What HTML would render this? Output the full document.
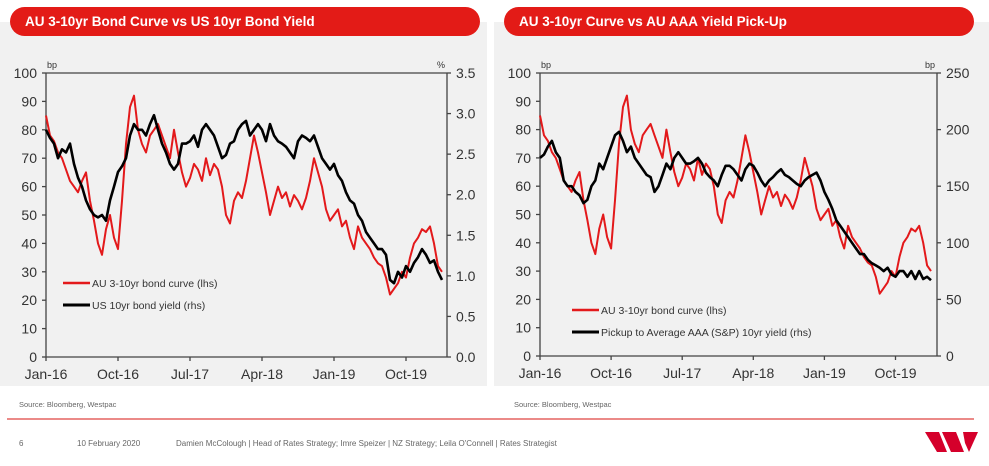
<!DOCTYPE html>
<html><head><meta charset="utf-8"><style>
body{margin:0;width:989px;height:466px;background:#fff;position:relative;overflow:hidden;font-family:"Liberation Sans",sans-serif}
.panel{position:absolute;top:22px;height:364px;background:#f1f1f1}
.title{position:absolute;top:7px;height:29px;width:470px;background:#e31b17;border-radius:15px;color:#fff;font-weight:bold;font-size:13.5px;line-height:29px;padding-left:15px;box-sizing:border-box}
.src{position:absolute;top:400px;font-size:7.5px;color:#666}
.foot{position:absolute;top:439px;font-size:8px;color:#666}
</style></head><body>
<div class="panel" style="left:0;width:487px"></div>
<div class="panel" style="left:494px;width:495px"></div>
<div class="title" style="left:10px">AU 3-10yr Bond Curve vs US 10yr Bond Yield</div>
<div class="title" style="left:504px">AU 3-10yr Curve vs AU AAA Yield Pick-Up</div>
<svg id="chart" width="989" height="466" style="position:absolute;left:0;top:0" font-family="Liberation Sans, sans-serif"></svg>
<div class="src" style="left:19px">Source: Bloomberg, Westpac</div>
<div class="src" style="left:514px">Source: Bloomberg, Westpac</div>
<div style="position:absolute;left:7px;top:418px;width:967px;height:2px;background:#eb8a88"></div>
<div class="foot" style="left:19px">6</div>
<div class="foot" style="left:77px">10 February 2020</div>
<div class="foot" style="left:176px">Damien McColough | Head of Rates Strategy; Imre Speizer | NZ Strategy; Leila O'Connell | Rates Strategist</div>
<svg width="60" height="24" style="position:absolute;left:925px;top:431px"><polygon points="0,1 14,1 22,21 12,21" fill="#d5002b"/><polygon points="17,1 31,1 39,21 26,21" fill="#d5002b"/><polygon points="38,1 53,1 44,21 40,12" fill="#d5002b"/></svg>
<script>
const xLabels=["Jan-16","Oct-16","Jul-17","Apr-18","Jan-19","Oct-19"];
const xLabelMonths=[0,9,18,27,36,45];
const lhsTicks=[0,10,20,30,40,50,60,70,80,90,100];
const rhsTicksL=["0.0","0.5","1.0","1.5","2.0","2.5","3.0","3.5"];
const rhsTicksR=["0","50","100","150","200","250"];
// semi-monthly values from Jan-16
const auCurve=[85,78,76,72,70,66,62,60,58,62,65,55,48,40,36,45,50,42,38,55,75,88,92,80,75,72,78,80,82,78,74,70,80,72,65,60,63,68,66,62,70,64,68,66,60,50,47,55,58,56,62,70,78,72,65,58,50,55,60,56,58,53,57,55,52,56,62,70,65,60,52,48,50,52,46,48,42,38,46,42,40,38,35,33,32,28,22,24,26,30,28,35,40,42,45,44,46,40,32,30];
const us10y=[2.80,2.70,2.63,2.45,2.56,2.52,2.63,2.38,2.21,2.10,1.93,1.82,1.75,1.72,1.75,1.68,1.93,2.10,2.28,2.35,2.45,2.73,2.87,2.80,2.80,2.73,2.87,2.98,2.80,2.63,2.52,2.38,2.31,2.38,2.63,2.63,2.66,2.73,2.59,2.80,2.87,2.80,2.73,2.59,2.45,2.49,2.63,2.66,2.80,2.87,2.91,2.73,2.80,2.87,2.80,2.66,2.87,2.73,2.66,2.63,2.59,2.52,2.45,2.66,2.73,2.70,2.66,2.73,2.59,2.45,2.38,2.31,2.38,2.24,2.17,2.03,1.93,1.89,1.75,1.68,1.54,1.47,1.40,1.33,1.33,1.26,0.95,0.91,1.05,0.98,1.12,1.05,1.16,1.23,1.33,1.26,1.16,1.19,1.05,0.95];
const aaaPickup=[175,178,185,190,180,175,155,150,150,145,142,135,138,150,155,170,165,175,185,195,198,190,180,185,175,170,165,160,158,145,150,160,170,165,175,180,175,170,170,172,175,170,162,158,155,150,160,168,168,165,160,155,165,170,168,162,155,150,155,158,162,165,160,158,155,152,150,155,158,160,162,155,145,138,130,120,115,110,105,100,95,90,90,85,82,80,78,75,78,72,70,75,75,70,75,68,75,68,70,67];
const NS="http://www.w3.org/2000/svg";
const svg=document.getElementById("chart");
function mk(t,a,parent){const e=document.createElementNS(NS,t);for(const k in a)e.setAttribute(k,a[k]);(parent||svg).appendChild(e);return e;}
function drawChart(cfg){
  const {x0,x1,y0,y1,mpx,rhsLabels,rhsMax,rhsSeries,rhsUnit,leg2,legX,legY,p}=cfg;
  const xs=m=>x0+m*mpx;
  const yl=v=>y1-(v/100)*(y1-y0);
  const yr=v=>y1-(v/rhsMax)*(y1-y0);
  const ax={stroke:"#444","stroke-width":1.3};
  let e=mk("line",Object.assign({x1:x0,y1:y0,x2:x1,y2:y0},ax));
  e=mk("line",Object.assign({x1:x0,y1:y0,x2:x0,y2:y1},ax));
  e=mk("line",Object.assign({x1:x1,y1:y0,x2:x1,y2:y1},ax));
  e=mk("line",Object.assign({x1:x0,y1:y1,x2:x1,y2:y1},ax));
  lhsTicks.forEach(v=>{mk("line",Object.assign({x1:x0-4,y1:yl(v),x2:x0,y2:yl(v)},ax));
    const t=mk("text",{x:x0-9,y:yl(v)+5,"text-anchor":"end","font-size":14,fill:"#333"});t.textContent=v;
    });
  rhsLabels.forEach((s,i)=>{const v=i*rhsMax/(rhsLabels.length-1);
    mk("line",Object.assign({x1:x1,y1:yr(v),x2:x1+4,y2:yr(v)},ax));
    const t=mk("text",{x:x1+9,y:yr(v)+5,"font-size":14,fill:"#333"});t.textContent=s;
    });
  xLabels.forEach((s,i)=>{const x=xs(xLabelMonths[i]);
    mk("line",Object.assign({x1:x,y1:y1,x2:x,y2:y1+4},ax));
    const t=mk("text",{x:x,y:y1+22,"text-anchor":"middle","font-size":14,fill:"#333"});t.textContent=s;
    });
  let t=mk("text",{x:x0+1,y:y0-5,"font-size":9,fill:"#333"});t.textContent="bp";
  
  t=mk("text",{x:x1-2,y:y0-5,"font-size":9,fill:"#333","text-anchor":"end"});t.textContent=rhsUnit;
  
  const redPts=auCurve.map((v,i)=>xs(i/2).toFixed(1)+","+yl(v).toFixed(1)).join(" ");
  const blkPts=rhsSeries.map((v,i)=>xs(i/2).toFixed(1)+","+yr(v).toFixed(1)).join(" ");
  e=mk("polyline",{points:redPts,fill:"none",stroke:"#e3191b","stroke-width":2,"stroke-linejoin":"round"});
  
  e=mk("polyline",{points:blkPts,fill:"none",stroke:"#000","stroke-width":2.6,"stroke-linejoin":"round"});
  
  e=mk("line",{x1:legX,y1:legY,x2:legX+27,y2:legY,stroke:"#e3191b","stroke-width":2.5});
  
  t=mk("text",{x:legX+29,y:legY+4,"font-size":10.5,fill:"#333"});t.textContent="AU 3-10yr bond curve (lhs)";
  
  e=mk("line",{x1:legX,y1:legY+22,x2:legX+27,y2:legY+22,stroke:"#000","stroke-width":3});
  
  t=mk("text",{x:legX+29,y:legY+26,"font-size":10.5,fill:"#333"});t.textContent=leg2;
  
}
drawChart({p:"left",x0:46,x1:447,y0:73,y1:357,mpx:8.0,rhsLabels:rhsTicksL,rhsMax:3.5,rhsSeries:us10y,rhsUnit:"%",leg2:"US 10yr bond yield (rhs)",legX:63,legY:283});
drawChart({p:"right",x0:540,x1:937,y0:73,y1:356,mpx:7.9,rhsLabels:rhsTicksR,rhsMax:250,rhsSeries:aaaPickup,rhsUnit:"bp",leg2:"Pickup to Average AAA (S&P) 10yr yield (rhs)",legX:572,legY:310});
</script>
</body></html>
